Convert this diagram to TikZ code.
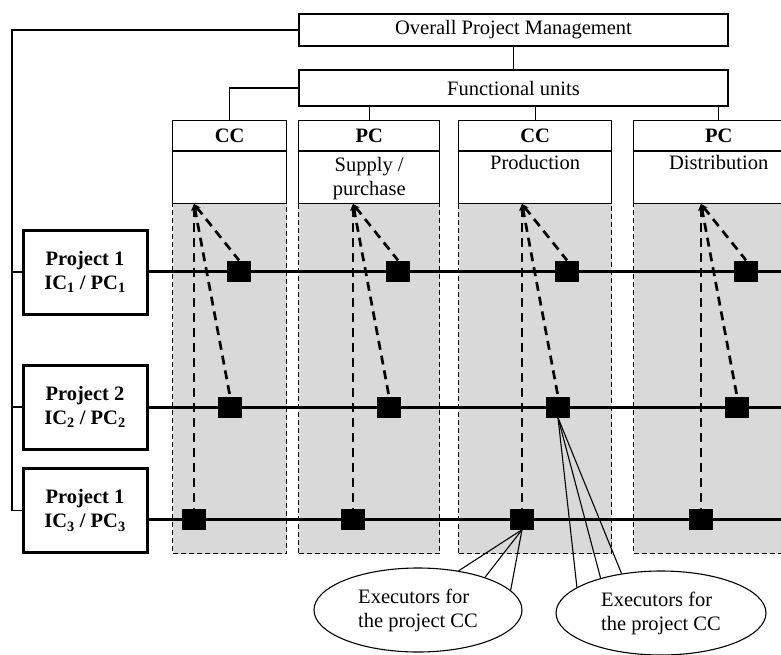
\documentclass[tikz,border=0pt]{standalone}
\usepackage{fontspec}
\setmainfont{Liberation Serif}
\usetikzlibrary{arrows.meta,shapes.geometric}
\definecolor{shade}{HTML}{D9D9D9}
\begin{document}
\begin{tikzpicture}[x=1pt,y=-1pt,
  font=\fontsize{20.5}{24}\selectfont,
  topbox/.style={draw, line width=1.4pt, inner sep=0pt, minimum width=429pt},
  deptbox/.style={draw, line width=1.4pt, inner sep=0pt, anchor=north west, minimum height=83pt},
  greybox/.style={fill=shade, draw, line width=1.1pt, dash pattern=on 5pt off 3pt, inner sep=0pt, anchor=north west, minimum height=350pt},
  proj/.style={draw, line width=3pt, inner sep=0pt, minimum width=124pt, minimum height=84pt, align=center, font=\bfseries\fontsize{20.5}{24}\selectfont},
  sq/.style={fill=black, inner sep=0pt, minimum width=24pt, minimum height=21pt},
  rowline/.style={line width=3pt},
  thin/.style={line width=1.1pt},
  dline/.style={line width=2.7pt, dash pattern=on 9pt off 6pt, {Stealth[length=7pt,width=6pt]}-},
  execell/.style={draw, ellipse, line width=1.1pt, inner sep=0pt, minimum height=84pt, align=left},
  hdr/.style={font=\bfseries\fontsize{20.5}{24}\selectfont, inner sep=0pt},
  body/.style={align=center, inner sep=0pt}
]
\useasboundingbox (0,0) rectangle (781,655);

% grey areas
\node[greybox, minimum width=114pt] (g1) at (172,203) {};
\node[greybox, minimum width=141pt] (g2) at (298,203) {};
\node[greybox, minimum width=153pt] (g3) at (458,203) {};
\node[greybox, minimum width=170pt] (g4) at (633,203) {};

% top boxes
\node[topbox, minimum height=32pt] (opm) at (513.5,30) {Overall Project Management};
\node[topbox, minimum height=36pt] (fu) at (513.5,88) {Functional units};
\draw[thin] (opm.south) -- (fu.north);

% department boxes
\node[deptbox, minimum width=114pt] (cc1) at (172,120) {};
\node[deptbox, minimum width=141pt] (pc1) at (298,120) {};
\node[deptbox, minimum width=153pt] (cc2) at (458,120) {};
\node[deptbox, minimum width=170pt] (pc2) at (633,120) {};
\foreach \b in {cc1,pc1,cc2,pc2}{
  \draw[line width=1.4pt] ([yshift=-31pt]\b.north west) -- ([yshift=-31pt]\b.north east);
}
\node[hdr] (h1) at ([yshift=-16pt]cc1.north) {CC};
\node[hdr] (h2) at ([yshift=-16pt]pc1.north) {PC};
\node[hdr] (h3) at ([yshift=-16pt]cc2.north) {CC};
\node[hdr] (h4) at ([yshift=-16pt]pc2.north) {PC};
\node[body] (b2) at ([yshift=-59pt]pc1.north) {Supply /\\purchase};
\node[body] (b3) at ([yshift=-42pt]cc2.north) {Production};
\node[body] (b4) at ([yshift=-42pt]pc2.north) {Distribution};

\draw[thin] (fu.west) -| (cc1.north);
\draw[thin] (fu.south -| pc1.north) -- (pc1.north);
\draw[thin] (fu.south -| cc2.north) -- (cc2.north);
\draw[thin] (fu.south -| pc2.north) -- (pc2.north);

% project boxes
\node[proj] (p1) at (85,272) {Project 1\\IC\textsubscript{1} / PC\textsubscript{1}};
\node[proj] (p2) at (85,407) {Project 2\\IC\textsubscript{2} / PC\textsubscript{2}};
\node[proj] (p3) at (85,510.5) {Project 1\\IC\textsubscript{3} / PC\textsubscript{3}};

% left tree
\coordinate (lt) at (12,30);
\coordinate (lb) at (12,510.5);
\draw[thin] (opm.west) -- (lt) -- (lb) -- (p3.west);
\draw[thin] (lt |- p1.west) -- (p1.west);
\draw[thin] (lt |- p2.west) -- (p2.west);

% row lines
\coordinate (r1) at (800,271);
\coordinate (r2) at (800,407);
\coordinate (r3) at (800,519);
\draw[rowline] (p1.east |- r1) -- (r1);
\draw[rowline] (p2.east |- r2) -- (r2);
\draw[rowline] (p3.east |- r3) -- (r3);

% tips and squares
\foreach \c/\t in {1/194,2/353,3/522,4/701}{
  \coordinate (t\c) at (\t,204);
  \node[sq] (s1\c) at (\t+45,271) {};
  \node[sq] (s2\c) at (\t+36,407) {};
  \node[sq] (s3\c) at (\t,519) {};
}
\foreach \c in {1,2,3,4}{
  \draw[dline] (t\c) -- (s1\c.north);
  \draw[dline] (t\c) -- (s2\c.north);
  \draw[dline] (t\c) -- (s3\c.north);
}
\foreach \c in {1,2,3,4}{
  \node[sq] at (s1\c) {};
  \node[sq] at (s2\c) {};
  \node[sq] at (s3\c) {};
}

% executors
\node[execell, minimum width=208pt] (e1) at (418,610) {Executors for\\the project CC};
\node[execell, minimum width=210pt] (e2) at (661,613) {Executors for\\the project CC};
\draw[thin] (s33.south) -- (e1.44);
\draw[thin] (s33.south) -- (e1.26);
\draw[thin] (s33.south) -- (e1.12);
\draw[thin] (s23.south) -- (e2.163);
\draw[thin] (s23.south) -- (e2.150);
\draw[thin] (s23.south) -- (e2.135);
\end{tikzpicture}
\end{document}
